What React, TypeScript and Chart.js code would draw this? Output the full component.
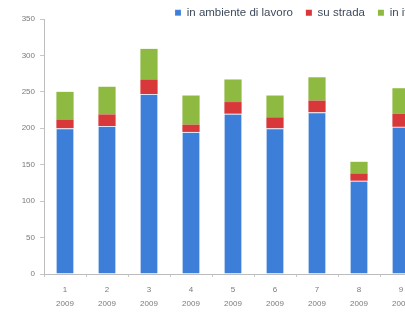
import React, { useEffect, useRef } from "react";
import { Chart, registerables } from "chart.js";

Chart.register(...registerables);

const months = ["1", "2", "3", "4", "5", "6", "7", "8", "9"];
const years = ["2009", "2009", "2009", "2009", "2009", "2009", "2009", "2009", "2009"];
const seriesNames = ["in ambiente di lavoro", "su strada", "in itinere"];
const lavoro = [200, 203, 247, 195, 220, 200, 222, 128, 202];
const strada = [12, 16, 20, 10, 16, 15, 16, 10, 18];
const itinere = [38, 38, 42, 40, 31, 30, 32, 16, 35];
const yTicks = [0, 50, 100, 150, 200, 250, 300, 350];

const LEGEND_PAD = 13;

const legendFitPlugin = {
  id: "legendFit",
  beforeInit(chart: any) {
    const legend = chart.legend;
    if (!legend) return;
    const orig = legend.fit;
    legend.fit = function () {
      orig.call(this);
      this.height = 19;
    };
  },
  afterLayout(chart: any) {
    const legend = chart.legend;
    if (!legend) return;
    legend.top -= 6;
    legend.left = 175 - LEGEND_PAD;
    legend.right = legend.left + 600;
    legend.width = 600;
  },
};

export default function App() {
  const ref = useRef<HTMLCanvasElement | null>(null);
  useEffect(() => {
    if (!ref.current) return;
    const font = "'Liberation Sans', Arial, sans-serif";
    const chart = new Chart(ref.current, {
      type: "bar",
      data: {
        labels: months.map((m, i) => [m, years[i]]),
        datasets: [
          {
            label: seriesNames[0],
            data: lavoro,
            backgroundColor: "#3d7ed8",
            borderColor: "#d4e3f7",
            borderWidth: { top: 1, left: 0, right: 0, bottom: 0 },
            borderSkipped: false,
          },
          {
            label: seriesNames[1],
            data: strada,
            backgroundColor: "#d8383a",
            borderWidth: 0,
          },
          {
            label: seriesNames[2],
            data: itinere,
            backgroundColor: "#8fba42",
            borderWidth: 0,
          },
        ],
      },
      options: {
        responsive: false,
        animation: false,
        layout: { padding: { left: 0, right: 8, top: 0, bottom: 0 } },
        datasets: {
          bar: { categoryPercentage: 1, barPercentage: 0.41 },
        },
        plugins: {
          legend: {
            position: "top",
            align: "start",
            labels: {
              boxWidth: 6,
              boxHeight: 6,
              padding: LEGEND_PAD,
              color: "#3e4a5c",
              font: { size: 11.5, family: font },
            },
          },
          tooltip: { enabled: false },
        },
        scales: {
          x: {
            stacked: true,
            grid: {
              display: true,
              drawOnChartArea: false,
              drawTicks: true,
              tickLength: 3,
              color: "#c8c8c8",
            },
            border: { display: true, color: "#bdbdbd" },
            ticks: {
              color: "#7a7a7a",
              padding: 5,
              maxRotation: 0,
              autoSkip: false,
              font: { size: 8, family: font, lineHeight: 1.85 },
            },
            afterFit(scale: any) {
              scale.height = 44;
            },
          },
          y: {
            stacked: true,
            min: 0,
            max: 350,
            afterBuildTicks(scale: any) {
              scale.ticks = yTicks.map((v) => ({ value: v }));
            },
            grid: {
              display: true,
              drawOnChartArea: false,
              drawTicks: true,
              tickLength: 4,
              color: "#c8c8c8",
            },
            border: { display: true, color: "#bdbdbd" },
            ticks: {
              color: "#7a7a7a",
              padding: 5,
              font: { size: 8, family: font },
            },
            afterFit(scale: any) {
              scale.width = 44;
            },
          },
        },
      },
      plugins: [legendFitPlugin],
    } as any);
    return () => chart.destroy();
  }, []);
  return (
    <div
      style={{
        position: "fixed",
        left: 0,
        top: 0,
        width: 405,
        height: 318,
        overflow: "hidden",
        background: "#fff",
      }}
    >
      <canvas ref={ref} width={430} height={318} style={{ display: "block" }} />
    </div>
  );
}
